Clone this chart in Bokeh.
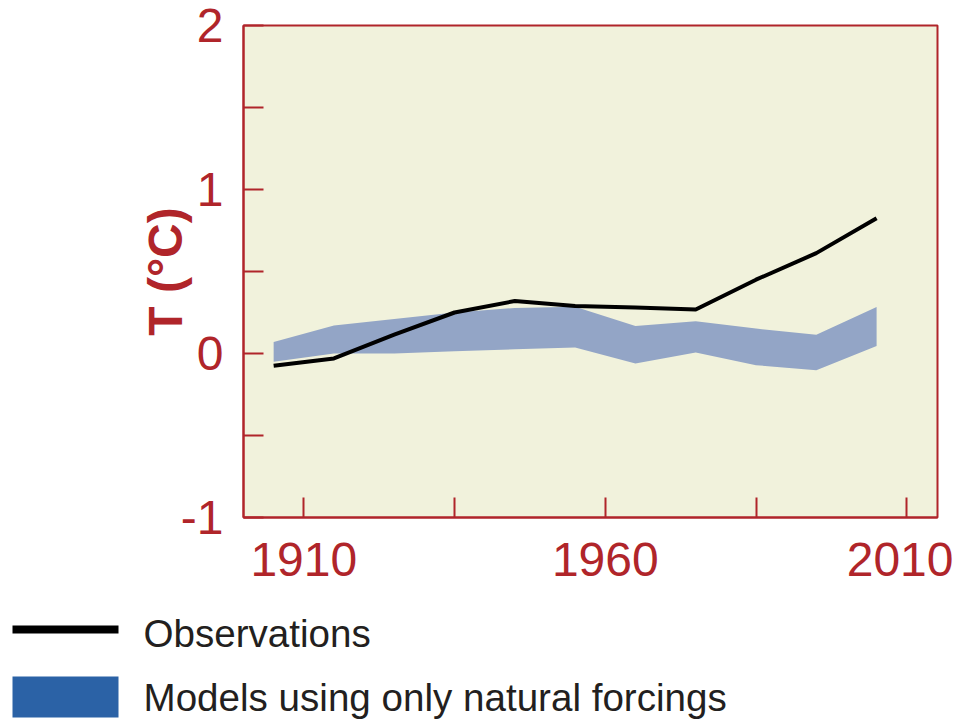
from bokeh.plotting import figure
from bokeh.layouts import column
from bokeh.models import FixedTicker, Range1d
from bokeh.embed import file_html
from bokeh.resources import INLINE
from bokeh.core.properties import value

# ---- data ----
years = [1905, 1915, 1925, 1935, 1945, 1955, 1965, 1975, 1985, 1995, 2005]
observations = [-0.075, -0.03, 0.115, 0.25, 0.32, 0.29, 0.28, 0.268, 0.45, 0.612, 0.825]
model_upper = [0.07, 0.17, 0.21, 0.25, 0.278, 0.285, 0.168, 0.197, 0.152, 0.115, 0.284]
model_lower = [-0.05, 0.0, 0.0, 0.014, 0.026, 0.036, -0.061, 0.006, -0.071, -0.102, 0.046]

x_major = [1910, 1960, 2010]
x_minor = [1935, 1985]
y_major = [-1, 0, 1, 2]
y_minor = [-0.5, 0.5, 1.5]

legend_labels = ["Observations", "Models using only natural forcings"]

# ---- styles ----
RED = "#B0252A"
BG = "#F1F2DC"
BAND = "#93A5C6"
LEG_BLUE = "#2B62A6"
TXT = "#231F20"
FONT = "Liberation Sans"

p = figure(width=953, height=605, output_backend="svg", toolbar_location=None,
           x_range=Range1d(1900, 2015.1), y_range=Range1d(-1, 2),
           min_border_left=243, min_border_right=16, min_border_top=25,
           min_border_bottom=88)
p.frame_align = False
p.background_fill_color = BG
p.border_fill_color = "white"
p.outline_line_color = RED
p.outline_line_width = 2
p.grid.visible = False

p.varea(x=years, y1=model_lower, y2=model_upper, fill_color=BAND)
p.line(x=years, y=observations, line_color="black", line_width=4)

for ax in (p.xaxis[0], p.yaxis[0]):
    ax.axis_line_color = RED
    ax.axis_line_width = 2
    ax.major_tick_line_color = RED
    ax.minor_tick_line_color = RED
    ax.major_tick_line_width = 2
    ax.minor_tick_line_width = 2
    ax.major_tick_in = 20
    ax.major_tick_out = 0
    ax.minor_tick_in = 20
    ax.minor_tick_out = 0
    ax.major_label_text_color = RED
    ax.major_label_text_font = FONT
    ax.major_label_text_font_size = "48px"

p.xaxis[0].ticker = FixedTicker(ticks=x_major, minor_ticks=x_minor)
p.yaxis[0].ticker = FixedTicker(ticks=y_major, minor_ticks=y_minor)
p.yaxis[0].major_label_overrides = {t: str(t) for t in y_major}
p.xaxis[0].major_label_standoff = 25
p.yaxis[0].major_label_standoff = 20

p.yaxis[0].axis_label = "T (°C)"
p.yaxis[0].axis_label_text_font = FONT
p.yaxis[0].axis_label_text_font_style = "bold"
p.yaxis[0].axis_label_text_font_size = "48px"
p.yaxis[0].axis_label_text_color = RED
p.yaxis[0].axis_label_standoff = -14

# ---- legend panel (pixel coordinates, y downward) ----
leg = figure(width=953, height=116, output_backend="svg", toolbar_location=None,
             x_range=Range1d(0, 953), y_range=Range1d(116, 0), min_border=0)
leg.frame_align = False
leg.axis.visible = False
leg.grid.visible = False
leg.outline_line_color = None
leg.background_fill_color = "white"
leg.border_fill_color = "white"

leg.line(x=[12, 118], y=[24, 24], line_color="black", line_width=8)
leg.quad(left=[12], right=[118], top=[71], bottom=[112], fill_color=LEG_BLUE, line_color=None)
leg.text(x=[143, 143], y=[28, 92], text=legend_labels,
         text_font=value(FONT), text_font_size="38.6px",
         text_color=TXT, text_baseline="middle", text_align="left")

layout = column(p, leg, spacing=0)

open("out.html", "w").write(file_html(layout, INLINE))
